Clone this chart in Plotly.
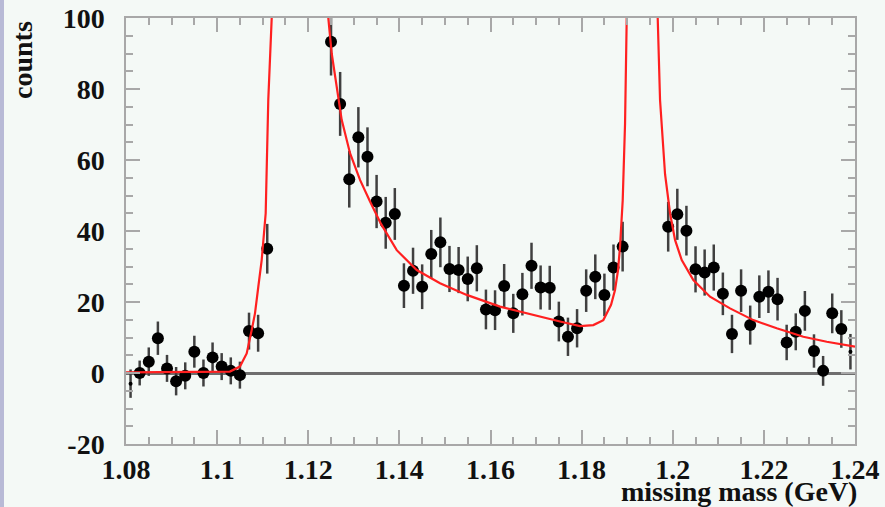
import plotly.graph_objects as go

# ---- data ----
mass = [1.081, 1.083, 1.085, 1.087, 1.089, 1.091, 1.093, 1.095, 1.097, 1.099,
        1.101, 1.103, 1.105, 1.107, 1.109, 1.111,
        1.125, 1.127, 1.129, 1.131, 1.133, 1.135, 1.137, 1.139, 1.141, 1.143,
        1.145, 1.147, 1.149, 1.151, 1.153, 1.155, 1.157, 1.159, 1.161, 1.163,
        1.165, 1.167, 1.169, 1.171, 1.173, 1.175, 1.177, 1.179, 1.181, 1.183,
        1.185, 1.187, 1.189,
        1.199, 1.201, 1.203, 1.205, 1.207, 1.209, 1.211, 1.213, 1.215, 1.217,
        1.219, 1.221, 1.223, 1.225, 1.227, 1.229, 1.231, 1.233, 1.235, 1.237,
        1.239]
counts = [-3.0, 0.0, 3.2, 9.8, 1.3, -2.3, -0.8, 6.0, 0.0, 4.4,
          1.8, 0.6, -0.6, 11.8, 11.2, 35.0,
          93.3, 75.8, 54.6, 66.4, 60.9, 48.3, 42.3, 44.8, 24.6, 28.8,
          24.3, 33.5, 36.8, 29.3, 29.0, 26.5, 29.5, 17.9, 17.7, 24.5,
          16.8, 22.2, 30.2, 24.1, 24.0, 14.5, 10.2, 12.6, 23.2, 27.1,
          22.0, 29.7, 35.6,
          41.2, 44.7, 40.1, 29.2, 28.3, 29.7, 22.3, 11.0, 23.2, 13.5,
          21.5, 22.9, 20.8, 8.6, 11.6, 17.5, 6.2, 0.6, 16.8, 12.4,
          6.0]
errors = [4.0, 3.5, 4.0, 4.7, 3.8, 4.0, 3.8, 4.5, 3.8, 4.2,
          3.8, 3.8, 3.8, 5.2, 5.2, 7.0,
          9.5, 9.0, 8.0, 8.5, 8.3, 7.5, 7.3, 7.3, 6.3, 6.5,
          6.3, 6.8, 7.0, 6.5, 6.5, 6.3, 6.5, 5.6, 5.6, 6.2,
          5.5, 6.0, 6.5, 6.2, 6.2, 5.6, 5.4, 5.4, 6.0, 6.3,
          6.0, 6.5, 7.0,
          7.0, 7.2, 7.0, 6.5, 6.5, 6.5, 6.0, 5.4, 6.0, 5.5,
          6.0, 6.0, 6.0, 5.0, 5.2, 5.6, 4.7, 4.2, 5.6, 5.3,
          5.0]

fit_mass = [1.080, 1.100, 1.1028, 1.1050, 1.10649, 1.10759, 1.10831, 1.10904,
            1.10978, 1.11029, 1.11066, 1.11123, 1.11198, 1.1157,
            1.12440, 1.12515, 1.12625, 1.12734, 1.12917, 1.13136, 1.13356,
            1.13597, 1.13942, 1.14087, 1.14381, 1.14892, 1.15478, 1.16209,
            1.16940, 1.17526, 1.17965, 1.18257, 1.18476, 1.18646, 1.18733,
            1.18799, 1.18843, 1.18902, 1.18953, 1.19025, 1.1926,
            1.19670, 1.19721, 1.19831, 1.19941, 1.20050, 1.20197, 1.20452,
            1.20818, 1.21257, 1.21769, 1.22282, 1.22866, 1.23380, 1.2400]
fit_counts = [0.2, 0.2, 0.4, 1.8, 5.5, 12.1, 16.8, 24.3,
              31.8, 39.4, 45.0, 77.0, 100.0, 320.0,
              100.0, 90.0, 80.6, 71.3, 61.9, 54.4, 48.3,
              42.0, 34.6, 32.8, 29.0, 25.3, 22.0, 18.7,
              16.3, 14.5, 13.2, 13.5, 14.9, 19.2, 23.4,
              29.0, 35.6, 48.7, 70.3, 100.0, 320.0,
              100.0, 76.9, 56.0, 45.0, 37.5, 31.8, 26.2,
              21.5, 18.2, 14.9, 12.6, 10.2, 8.8, 7.4]

x_tick_vals = [1.08, 1.10, 1.12, 1.14, 1.16, 1.18, 1.20, 1.22, 1.24]
x_tick_text = ["1.08", "1.1", "1.12", "1.14", "1.16", "1.18", "1.2", "1.22", "1.24"]
y_tick_vals = [-20, 0, 20, 40, 60, 80, 100]
y_tick_text = ["-20", "0", "20", "40", "60", "80", "100"]

# ---- styling ----
BG = "#f4f9f6"
AX = "#a8a8a8"
FONT = "Liberation Serif"
W, H = 885, 507
ML, MR, MT, MB = 126, 30, 18, 63
PW, PH = W - ML - MR, H - MT - MB

n = len(mass)
sizes = [4 if k in (0, n - 1) else 12 for k in range(n)]

fig = go.Figure()
# error bars (drawn first, underneath markers)
fig.add_trace(go.Scatter(
    x=mass, y=counts, mode="markers",
    marker=dict(color="rgba(0,0,0,0)", size=1),
    error_y=dict(type="data", array=errors, color="#404040", thickness=2.5, width=0),
    showlegend=False, hoverinfo="skip",
))
# markers
fig.add_trace(go.Scatter(
    x=mass, y=counts, mode="markers",
    marker=dict(color="black", size=sizes, opacity=1, line=dict(width=0)),
    showlegend=False,
))
# fit curve
fig.add_trace(go.Scatter(
    x=fit_mass, y=fit_counts, mode="lines",
    line=dict(color="#ff2020", width=2.2),
    showlegend=False,
))

axis_common = dict(
    showgrid=False, showline=True, linecolor=AX, linewidth=1.5,
    ticks="inside", tickcolor=AX, tickwidth=1.5, ticklen=14, mirror="ticks",
    tickfont=dict(family=FONT, size=28, color="#111111", weight="bold"),
    tickmode="array", automargin=False,
)
fig.update_xaxes(
    range=[1.08, 1.24], tickvals=x_tick_vals, ticktext=x_tick_text,
    zeroline=False, ticklabelstandoff=0,
    minor=dict(ticks="inside", dtick=0.005, tick0=1.08, ticklen=7,
               tickcolor=AX, tickwidth=1.5, showgrid=False),
    **axis_common,
)
fig.update_yaxes(
    range=[-20, 100], tickvals=y_tick_vals, ticktext=y_tick_text,
    zeroline=True, zerolinecolor="#6e6e6e", zerolinewidth=2.5,
    ticklabelstandoff=14,
    minor=dict(ticks="inside", dtick=5, tick0=0, ticklen=7,
               tickcolor=AX, tickwidth=1.5, showgrid=False),
    **axis_common,
)

fig.add_annotation(
    text="<b>counts</b>", textangle=-90, showarrow=False,
    xref="paper", yref="paper", x=0, y=1, xanchor="center", yanchor="top",
    xshift=-104, yshift=-1,
    font=dict(family=FONT, size=28, color="#111111"),
)
fig.add_annotation(
    text="<b>missing mass (GeV)</b>", showarrow=False,
    xref="paper", yref="paper", x=1, y=0, xanchor="right", yanchor="middle",
    xshift=4, yshift=-47,
    font=dict(family=FONT, size=28, color="#111111"),
)

fig.add_shape(
    type="rect", xref="paper", yref="paper",
    x0=-ML / PW, x1=(-ML + 4) / PW, y0=-MB / PH, y1=1 + MT / PH,
    fillcolor="#b8bad6", line=dict(width=0), layer="below",
)

fig.update_layout(
    width=W, height=H,
    margin=dict(l=ML, r=MR, t=MT, b=MB, autoexpand=False),
    paper_bgcolor=BG, plot_bgcolor=BG,
    showlegend=False,
)

fig.write_html(
    "out.html",
    config={"displayModeBar": False},
    post_script="document.body.style.margin='0px';document.body.style.overflow='hidden';",
)
